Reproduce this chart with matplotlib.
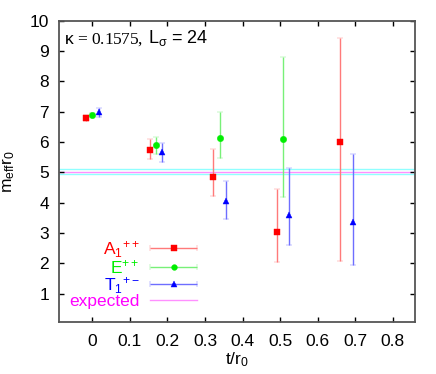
import numpy as np
import matplotlib
matplotlib.use("Agg")
import matplotlib.pyplot as plt
from matplotlib.container import ErrorbarContainer
from matplotlib.legend_handler import HandlerErrorbar
from matplotlib.lines import Line2D

plt.rcParams['font.family'] = ['Liberation Sans', 'DejaVu Sans']
plt.rcParams['mathtext.fontset'] = 'custom'
plt.rcParams['mathtext.rm'] = 'Liberation Sans'
plt.rcParams['mathtext.it'] = 'Liberation Sans'

# data
t_A = [-0.017, 0.153, 0.322, 0.491, 0.661]
m_A = [6.78, 5.75, 4.85, 3.04, 6.00]
lo_A = [6.68, 5.45, 4.21, 2.04, 2.07]
hi_A = [6.90, 6.09, 5.76, 4.46, 9.42]

t_E = [0.0, 0.170, 0.339, 0.509]
m_E = [6.89, 5.90, 6.15, 6.09]
lo_E = [6.82, 5.60, 5.49, 4.19]
hi_E = [6.96, 6.18, 6.99, 8.79]

t_T = [0.017, 0.186, 0.356, 0.525, 0.695]
m_T = [6.98, 5.66, 4.06, 3.60, 3.38]
lo_T = [6.84, 5.33, 3.45, 2.60, 1.96]
hi_T = [7.11, 5.97, 4.72, 5.13, 5.62]

expected = 5.02
expected_band = [4.95, 5.10]

xticks = [0, 0.1, 0.2, 0.3, 0.4, 0.5, 0.6, 0.7, 0.8]
xticklabels = ['0', '0.1', '0.2', '0.3', '0.4', '0.5', '0.6', '0.7', '0.8']
yticks = [1, 2, 3, 4, 5, 6, 7, 8, 9, 10]

series = [
    (t_A, m_A, lo_A, hi_A, 's', '#ff0000', '#ff7a7a', 4.4, r'A$_1$$^{++}$'),
    (t_E, m_E, lo_E, hi_E, 'o', '#00ee00', '#78f078', 4.6, r'E$^{++}$'),
    (t_T, m_T, lo_T, hi_T, '^', '#0000ff', '#6e6eff', 4.6, r'T$_1$$^{+-}$'),
]

fig = plt.figure(figsize=(4.36, 3.74), dpi=100)
ax = fig.add_axes([0.1346, 0.1398, 0.8174, 0.8049])

for y in expected_band:
    ax.axhline(y, color='#90ffff', lw=1.0, zorder=1)
ax.axhline(expected, color='#ff90ff', lw=1.0, zorder=1)

handles = []
labels = []
for t, m, lo, hi, mk, c, ec, ms, lab in series:
    m = np.array(m)
    yerr = [m - np.array(lo), np.array(hi) - m]
    ax.errorbar(t, m, yerr=yerr, fmt=mk, color=c, ecolor=ec, mec=c, mew=0.3,
                ms=ms, elinewidth=1.0, capsize=1.9, capthick=1.0, zorder=3)
    # proxy for a horizontal-bar legend sample
    h = ax.errorbar([np.nan], [np.nan], xerr=[0.1], fmt=mk, color=c, ecolor=ec,
                    mec=c, mew=0.3, ms=ms * 0.9, elinewidth=1.0, capsize=1.9,
                    capthick=1.0)
    handles.append(h)
    labels.append(lab)
handles.append(Line2D([], [], color='#ff90ff', lw=1.0))
labels.append('expected')

ax.set_xlim(-0.09, 0.86)
ax.set_ylim(0.08, 10)
ax.set_xticks(xticks)
ax.set_xticklabels(xticklabels)
ax.set_yticks(yticks)
ax.tick_params(direction='in', length=3.5, width=1.0, top=True, right=True,
               labelsize=12.5, pad=7)
ax.tick_params(axis='x', pad=9)
for s in ax.spines.values():
    s.set_color('#555555')
    s.set_linewidth(1.3)

ax.set_xlabel(r't/r$_0$', fontsize=12.5, labelpad=1)
ax.set_ylabel(r'm$_{\rm eff}$r$_0$', fontsize=12.5)
ax.yaxis.set_label_coords(-0.118, 0.5)

ax.text(0.016, 0.925, r'$\kappa$ = 0.1575,', transform=ax.transAxes,
        fontsize=12.5, family='Liberation Serif', va='baseline')
ax.text(0.252, 0.925, r'L$_\sigma$ = 24', transform=ax.transAxes,
        fontsize=13, va='baseline')

hl = 2.7
leg = ax.legend(handles, labels, loc='lower left', bbox_to_anchor=(0.029, 0.041),
                frameon=False, markerfirst=False, numpoints=1, fontsize=12.5,
                handlelength=hl, handletextpad=0.63, labelspacing=-0.08,
                borderpad=0, borderaxespad=0,
                handler_map={ErrorbarContainer: HandlerErrorbar(xerr_size=hl / 2)})
for txt, (_, _, _, _, _, c, _, _, _) in zip(leg.get_texts(), series):
    txt.set_color(c)
leg.get_texts()[-1].set_color('#ff00ff')

fig.savefig('out.png', dpi=100)
